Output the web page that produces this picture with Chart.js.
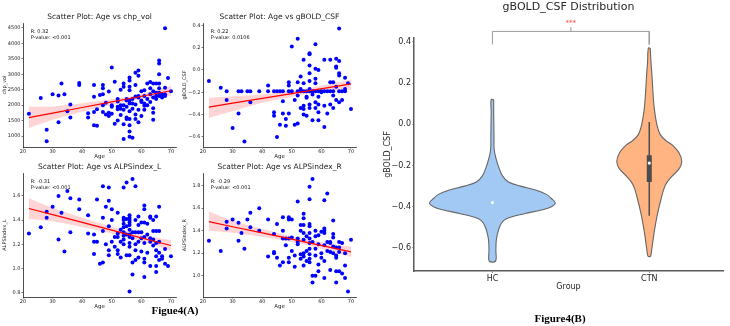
<!DOCTYPE html>
<html><head><meta charset="utf-8">
<script src="https://cdn.jsdelivr.net/npm/chart.js@4/dist/chart.umd.min.js"></script>
<style>
html,body{margin:0;padding:0;width:730px;height:326px;overflow:hidden;background:#fff;}
canvas{position:absolute;}
.cap{position:absolute;font:bold 11px "Liberation Serif","Times New Roman",serif;color:#000;white-space:nowrap;transform:translate(-50%,-50%);}
</style></head><body>
<canvas id="c1" width="199" height="162" style="left:0px;top:0px"></canvas>
<canvas id="c2" width="199" height="162" style="left:180px;top:0px"></canvas>
<canvas id="c3" width="199" height="162" style="left:0px;top:150px"></canvas>
<canvas id="c4" width="199" height="162" style="left:180px;top:150px"></canvas>
<canvas id="c5" width="377" height="296" style="left:380px;top:0px"></canvas>
<div class="cap" style="left:175px;top:310px">Figue4(A)</div>
<div class="cap" style="left:560px;top:318px">Figure4(B)</div>
<script>
// ---------------- data ----------------
const AGE_TICKS = [20, 30, 40, 50, 60, 70];

// Panel 1: Age vs chp_vol
const AGE_CHP = [22,26,28,28,30,32,32,33,34,35,36,36,39,39,42,42,44,44,44,44,45,45,46,47,47,47,47,47,48,48,49,49,49,50,50,50,50,51,51,52,52,52,52,52,53,53,53,53,54,54,54,54,54,54,55,55,55,55,55,56,56,56,56,56,56,56,56,56,56,56,57,57,57,57,58,58,58,58,58,58,59,59,59,59,59,59,60,60,60,60,61,61,61,61,61,62,62,62,63,63,63,63,64,64,64,64,64,64,65,65,65,65,66,66,66,66,66,66,66,67,67,68,68,68,68,69,70];
const CHP_VOL = [1720,2230,1200,830,2350,2310,1450,2700,2350,1800,2020,1600,2720,2650,1740,1600,2650,2270,1350,1780,1330,1870,2330,2650,2550,2350,2000,1780,1700,2080,2440,1650,1750,3220,2000,1950,1720,2760,1400,2200,2120,1950,1870,1500,2000,1880,1680,2500,2700,2600,2000,1850,1380,900,2200,2150,1950,1600,1550,2900,2800,2600,2480,2150,2050,1800,1550,1350,1150,980,2200,2050,1880,940,3050,2650,2280,2020,1700,1550,3120,2950,2300,2250,1850,1450,2450,2150,2100,1650,2480,2300,2050,1980,1850,2700,2200,2000,2750,2550,2350,2100,2700,2450,2250,1900,1750,1530,2700,2400,2300,2200,3450,3350,3000,2700,2550,2400,2300,2250,2350,4490,2560,2350,2300,2880,2450];
const CHP_TICKS = [1000,1500,2000,2500,3000,3500,4000,4500];

// Panel 2: Age vs gBOLD_CSF
const AGE_GB = [22,26,28,28,30,32,32,33,34,35,36,36,39,42,42,44,44,44,45,45,46,46,47,47,47,48,48,49,49,49,49,50,50,51,51,52,52,52,52,52,53,53,53,53,54,54,54,54,54,54,55,55,55,55,56,56,56,56,56,56,56,56,56,57,57,57,58,58,58,58,58,58,58,59,59,59,59,59,59,60,60,61,61,61,61,62,62,63,63,63,63,64,64,64,64,65,65,65,65,65,66,66,66,66,66,66,67,67,68,68,68,69,70];
const GBOLD = [-0.10,-0.16,-0.19,-0.27,-0.52,-0.19,-0.39,-0.19,-0.64,-0.19,-0.19,-0.29,-0.19,-0.14,-0.19,-0.19,-0.38,-0.41,-0.19,-0.60,-0.19,-0.49,-0.28,-0.19,-0.39,-0.44,-0.50,-0.11,-0.14,-0.19,-0.39,0.21,-0.19,-0.49,-0.27,0.28,-0.11,-0.19,-0.23,-0.48,-0.06,-0.17,-0.19,-0.34,0.09,-0.12,-0.19,-0.32,-0.35,-0.40,-0.19,-0.24,-0.25,-0.41,0.15,0.14,0.04,-0.03,-0.10,-0.17,-0.19,-0.31,-0.34,-0.19,-0.22,-0.45,0.23,0.01,-0.08,-0.12,-0.19,-0.29,-0.34,0.00,-0.19,-0.24,-0.31,-0.38,-0.45,-0.19,-0.20,0.09,-0.19,-0.32,-0.51,-0.19,-0.39,0.09,-0.11,-0.19,-0.31,-0.11,-0.19,-0.23,-0.34,0.10,0.03,0.02,-0.15,-0.27,0.37,0.08,-0.03,-0.05,-0.19,-0.29,-0.19,-0.27,-0.07,-0.17,-0.19,-0.12,-0.35];
const GB_TICKS = [-0.6,-0.4,-0.2,0.0,0.2,0.4];

// Panel 3: Age vs ALPSindex_L
const AGE_L = [22,26,28,28,30,32,32,33,34,35,36,36,39,39,42,42,44,44,44,45,45,46,47,47,47,47,48,48,49,49,49,49,49,50,50,50,51,51,52,52,52,52,52,53,53,53,54,54,54,54,54,54,54,54,54,55,55,55,55,55,56,56,56,56,56,56,56,56,56,56,56,56,57,57,57,57,57,58,58,58,58,58,58,59,59,59,59,59,60,60,60,60,61,61,61,61,61,61,61,61,62,62,62,63,63,63,63,63,64,64,64,64,65,65,65,65,65,65,65,66,66,66,66,66,67,67,68,68,69,70];
const ALPS_L = [1.29,1.34,1.47,1.42,1.51,1.60,1.24,1.46,1.14,1.64,1.58,1.30,1.57,1.49,1.44,1.29,1.28,1.22,1.12,1.57,1.22,1.04,1.68,1.42,1.31,1.05,1.51,1.20,1.67,1.56,1.35,1.15,1.11,1.49,1.40,1.22,1.26,1.18,1.46,1.29,1.26,1.15,1.12,1.32,1.22,1.09,1.67,1.42,1.40,1.37,1.34,1.30,1.27,1.24,1.20,1.71,1.41,1.35,1.28,1.11,1.44,1.42,1.40,1.38,1.36,1.32,1.28,1.26,1.21,1.18,1.11,0.81,1.74,1.30,1.25,1.05,0.95,1.68,1.40,1.30,1.20,1.15,1.07,1.43,1.36,1.30,1.22,1.09,1.38,1.30,1.25,1.14,1.52,1.49,1.38,1.26,1.21,1.08,1.05,0.93,1.37,1.28,1.13,1.43,1.42,1.25,1.22,1.02,1.40,1.31,1.24,1.19,1.43,1.31,1.21,1.15,1.10,1.02,0.97,1.51,1.31,1.22,1.13,1.07,1.08,1.10,1.16,1.04,1.02,1.10];
const L_TICKS = [0.8,1.0,1.2,1.4,1.6];

// Panel 4: Age vs ALPSindex_R
const AGE_R = [22,26,28,28,30,32,32,33,34,35,36,36,39,39,42,42,44,44,44,45,45,46,47,47,47,47,48,48,49,49,49,49,49,50,50,50,51,51,52,52,52,52,52,53,53,53,53,54,54,54,54,54,54,54,54,55,55,55,56,56,56,56,56,56,56,56,56,56,56,57,57,57,57,58,58,58,58,58,59,59,59,59,60,60,60,61,61,61,61,61,61,61,62,62,62,63,63,63,63,64,64,64,64,64,65,65,65,65,65,66,66,66,66,67,67,68,68,68,69,70];
const ALPS_R = [1.31,1.22,1.48,1.42,1.50,1.47,1.31,1.38,1.24,1.50,1.56,1.43,1.60,1.40,1.50,1.17,1.37,1.21,1.20,1.46,1.16,1.09,1.52,1.40,1.33,1.12,1.33,1.27,1.52,1.50,1.33,1.16,1.12,1.50,1.34,1.22,1.08,1.18,1.66,1.33,1.31,1.28,1.30,1.45,1.40,1.19,1.15,1.55,1.51,1.45,1.38,1.32,1.20,1.17,1.09,1.35,1.22,1.13,1.79,1.68,1.46,1.44,1.38,1.33,1.29,1.24,1.19,1.15,1.12,1.86,1.30,1.00,0.94,1.40,1.35,1.24,1.18,1.00,1.36,1.28,1.10,1.04,1.39,1.20,1.16,1.67,1.42,1.40,1.38,1.27,1.13,0.98,1.73,1.30,1.22,1.29,1.30,1.21,1.05,1.49,1.37,1.34,1.26,1.20,1.25,1.18,1.16,1.04,0.94,1.30,1.25,1.21,1.04,1.29,1.02,1.20,1.09,0.98,0.86,1.32];
const R_TICKS = [1.0,1.2,1.4,1.6,1.8];

// regression lines and 95% CI bands
const FIT_AGE = [22,30,40,50,57,65,70];
const FIT_CHP = [1598,1743,1924,2105,2232,2377,2467];
const HI_CHP  = [1950,1960,2060,2190,2300,2490,2620];
const LO_CHP  = [1260,1530,1790,2010,2160,2260,2300];
const FIT_GB = [-0.333,-0.298,-0.255,-0.212,-0.181,-0.147,-0.125];
const HI_GB  = [-0.25,-0.235,-0.22,-0.187,-0.157,-0.115,-0.085];
const LO_GB  = [-0.43,-0.37,-0.295,-0.24,-0.207,-0.182,-0.175];
const FIT_L = [1.496,1.445,1.381,1.317,1.272,1.221,1.19];
const HI_L  = [1.58,1.50,1.42,1.345,1.298,1.255,1.235];
const LO_L  = [1.41,1.39,1.342,1.29,1.246,1.188,1.147];
const FIT_R = [1.48,1.435,1.38,1.324,1.285,1.24,1.212];
const HI_R  = [1.57,1.49,1.415,1.35,1.31,1.275,1.26];
const LO_R  = [1.40,1.382,1.345,1.298,1.26,1.205,1.165];

// Violin panel
const GROUPS = ['HC', 'CTN'];
const HC_Y = [0.12,0.06,0.0,-0.06,-0.12,-0.16,-0.21,-0.25,-0.28,-0.30,-0.32,-0.34,-0.36,-0.382,-0.40,-0.415,-0.434,-0.458,-0.48,-0.515,-0.56,-0.61,-0.664];
const HC_W = [0.008,0.008,0.009,0.010,0.011,0.021,0.041,0.064,0.102,0.178,0.280,0.344,0.376,0.401,0.376,0.318,0.204,0.089,0.057,0.038,0.025,0.022,0.020];
const CTN_Y = [0.37,0.30,0.24,0.15,0.076,0.0,-0.05,-0.08,-0.10,-0.14,-0.18,-0.215,-0.256,-0.296,-0.36,-0.44,-0.52,-0.60,-0.64];
const CTN_W = [0.006,0.011,0.017,0.024,0.032,0.048,0.070,0.108,0.146,0.191,0.207,0.191,0.140,0.102,0.076,0.051,0.032,0.017,0.008];
const MEDIANS = [-0.38, -0.188];
const CTN_WHISKER = [0.011, -0.444];
const CTN_BOX = [-0.15, -0.28];
const SIG_TEXT = '***';
const VIOLIN_TICKS = [-0.6,-0.4,-0.2,0.0,0.2,0.4];

// ---------------- helpers ----------------
const FAM = "'DejaVu Sans', 'Liberation Sans', sans-serif";
Chart.defaults.font.family = FAM;
const zip = (xs, ys) => xs.map((x, i) => ({x, y: ys[i]}));
const minus = s => s.replace('-', '\u2212');

const statsText = {
  id: 'statsText',
  afterDraw(chart, args, opts) {
    const {ctx, chartArea: a} = chart;
    ctx.save();
    ctx.font = `5px ${FAM}`;
    ctx.fillStyle = '#111';
    ctx.textBaseline = 'top';
    ctx.textAlign = 'left';
    const x = a.left + 0.05 * (a.right - a.left);
    const y = a.top + 0.05 * (a.bottom - a.top);
    (opts.lines || []).forEach((t, i) => ctx.fillText(t, x, y + i * 5.8));
    ctx.restore();
  }
};

// empty right-hand axis of the same width as the left one, so titles centre over the plot
const spacerAxis = w => ({position: 'right', display: true, afterFit: s => { s.width = w; },
  ticks: {display: false}, grid: {display: false}, border: {display: false}, title: {display: false}});

function makeScatter(id, o) {
  return new Chart(document.getElementById(id), {
    type: 'scatter',
    data: {datasets: [
      {type: 'line', data: zip(FIT_AGE, o.fit), borderColor: '#ff0000', borderWidth: 1.2, pointRadius: 0, fill: false, tension: 0},
      {data: zip(o.age, o.val), backgroundColor: '#0000ff', borderWidth: 0, pointRadius: 2},
      {type: 'line', data: zip(FIT_AGE, o.hi), borderWidth: 0, borderColor: 'rgba(0,0,0,0)', pointRadius: 0, fill: false, cubicInterpolationMode: 'monotone'},
      {type: 'line', data: zip(FIT_AGE, o.lo), borderWidth: 0, borderColor: 'rgba(0,0,0,0)', pointRadius: 0, fill: '-1', backgroundColor: 'rgba(255,0,0,0.17)', cubicInterpolationMode: 'monotone'}
    ]},
    options: {
      responsive: false, animation: false, events: [],
      layout: {padding: 0},
      plugins: {
        legend: {display: false}, tooltip: {enabled: false},
        title: {display: true, text: o.title, color: '#222', font: {size: 7.5, weight: 'normal'}, padding: {top: o.tTop, bottom: 1.5}},
        statsText: {lines: o.stats}
      },
      scales: {
        x: {
          type: 'linear', min: 20, max: 71.7,
          afterFit: s => { s.height = 15; },
          afterBuildTicks: s => { s.ticks = AGE_TICKS.map(v => ({value: v})); },
          ticks: {font: {size: 5}, color: '#222', padding: 0, maxRotation: 0, autoSkip: false, callback: v => String(v)},
          grid: {display: true, drawOnChartArea: false, drawTicks: true, tickLength: 1.5, color: '#222', lineWidth: 0.6},
          border: {display: true, color: '#222', width: 0.8},
          title: {display: true, text: 'Age', font: {size: 5.5}, color: '#222', padding: {top: 0, bottom: 1.7}}
        },
        y: {
          type: 'linear', min: o.ymin, max: o.ymax,
          afterFit: s => { s.width = 23; },
          afterBuildTicks: s => { s.ticks = o.ticks.map(v => ({value: v})); },
          ticks: {font: {size: 5}, color: '#222', padding: 1, autoSkip: false, callback: o.fmt},
          grid: {display: true, drawOnChartArea: false, drawTicks: true, tickLength: 1.5, color: '#222', lineWidth: 0.6},
          border: {display: true, color: '#222', width: 0.8},
          title: {display: true, text: o.ylab, font: {size: 5}, color: '#222', padding: {top: 2, bottom: 0}}
        },
        yR: spacerAxis(23)
      }
    },
    plugins: [statsText]
  });
}

const fmt1 = v => minus(Number(v).toFixed(1));

makeScatter('c1', {title: 'Scatter Plot: Age vs chp_vol', age: AGE_CHP, val: CHP_VOL, fit: FIT_CHP, hi: HI_CHP, lo: LO_CHP,
  ymin: 644, ymax: 4662, ticks: CHP_TICKS, fmt: v => String(v), ylab: 'chp_vol', stats: ['R: 0.32', 'P-value: <0.001'], tTop: 12.5});
makeScatter('c2', {title: 'Scatter Plot: Age vs gBOLD_CSF', age: AGE_GB, val: GBOLD, fit: FIT_GB, hi: HI_GB, lo: LO_GB,
  ymin: -0.69, ymax: 0.42, ticks: GB_TICKS, fmt: fmt1, ylab: 'gBOLD_CSF', stats: ['R: 0.22', 'P-value: 0.0106'], tTop: 12.5});
makeScatter('c3', {title: 'Scatter Plot: Age vs ALPSindex_L', age: AGE_L, val: ALPS_L, fit: FIT_L, hi: HI_L, lo: LO_L,
  ymin: 0.764, ymax: 1.787, ticks: L_TICKS, fmt: fmt1, ylab: 'ALPSindex_L', stats: ['R: -0.31', 'P-value: <0.001'], tTop: 12.8});
makeScatter('c4', {title: 'Scatter Plot: Age vs ALPSindex_R', age: AGE_R, val: ALPS_R, fit: FIT_R, hi: HI_R, lo: LO_R,
  ymin: 0.81, ymax: 1.91, ticks: R_TICKS, fmt: fmt1, ylab: 'ALPSindex_R', stats: ['R: -0.29', 'P-value: <0.001'], tTop: 12.8});

// ---------------- violin ----------------
function violinPoly(c, ys, ws) {
  const right = ys.map((y, i) => ({x: c + ws[i], y}));
  const left = ys.map((y, i) => ({x: c - ws[i], y})).reverse();
  return right.concat(left, [right[0]]);
}

const sigText = {
  id: 'sigText',
  afterDraw(chart) {
    const {ctx, scales: {x, y}} = chart;
    ctx.save();
    ctx.font = `7px ${FAM}`;
    ctx.fillStyle = '#ff3b3b';
    ctx.textAlign = 'center';
    ctx.textBaseline = 'middle';
    ctx.fillText(SIG_TEXT, x.getPixelForValue(0.5), y.getPixelForValue(0.493));
    ctx.restore();
  }
};

new Chart(document.getElementById('c5'), {
  type: 'scatter',
  data: {datasets: [
    {data: [{x: 0, y: MEDIANS[0]}, {x: 1, y: MEDIANS[1]}], backgroundColor: '#ffffff', borderWidth: 0, pointRadius: 1.6},
    {type: 'line', data: [{x: 1, y: CTN_BOX[0]}, {x: 1, y: CTN_BOX[1]}], borderColor: '#4c4c4c', borderWidth: 5, borderCapStyle: 'butt', pointRadius: 0, fill: false},
    {type: 'line', data: [{x: 1, y: CTN_WHISKER[0]}, {x: 1, y: CTN_WHISKER[1]}], borderColor: '#4c4c4c', borderWidth: 1.5, pointRadius: 0, fill: false},
    {type: 'line', data: violinPoly(0, HC_Y, HC_W), borderColor: '#666666', borderWidth: 1.1, backgroundColor: '#a1c9f4', fill: 'shape', pointRadius: 0, tension: 0.35},
    {type: 'line', data: violinPoly(1, CTN_Y, CTN_W), borderColor: '#666666', borderWidth: 1.1, backgroundColor: '#ffb482', fill: 'shape', pointRadius: 0, tension: 0.35},
    {type: 'line', data: [{x: 0, y: 0.388}, {x: 0, y: 0.451}, {x: 1, y: 0.451}, {x: 1, y: 0.388}], borderColor: '#9a9a9a', borderWidth: 1, pointRadius: 0, fill: false, tension: 0, clip: false},
    {type: 'line', data: [{x: 0.5, y: 0.451}, {x: 0.5, y: 0.472}], borderColor: '#9a9a9a', borderWidth: 1, pointRadius: 0, fill: false, tension: 0, clip: false}
  ]},
  options: {
    responsive: false, animation: false, events: [],
    layout: {padding: 0},
    plugins: {
      legend: {display: false}, tooltip: {enabled: false},
      title: {display: true, text: 'gBOLD_CSF Distribution', color: '#262626', font: {size: 11, weight: 'normal'}, padding: {top: 0.5, bottom: 24.3}}
    },
    scales: {
      x: {
        type: 'linear', min: -0.5, max: 1.47,
        afterFit: s => { s.height = 25; },
        afterBuildTicks: s => { s.ticks = GROUPS.map((g, i) => ({value: i})); },
        ticks: {font: {size: 8}, color: '#262626', padding: 1, maxRotation: 0, autoSkip: false, callback: v => GROUPS[v]},
        grid: {display: true, drawOnChartArea: false, drawTicks: true, tickLength: 2, color: '#888', lineWidth: 1},
        border: {display: true, color: '#5a5a5a', width: 1.5},
        title: {display: true, text: 'Group', font: {size: 8}, color: '#262626', padding: {top: 0, bottom: 4.2}}
      },
      y: {
        type: 'linear', min: -0.712, max: 0.419,
        afterFit: s => { s.width = 34; },
        afterBuildTicks: s => { s.ticks = VIOLIN_TICKS.map(v => ({value: v})); },
        ticks: {font: {size: 8}, color: '#262626', padding: 1, autoSkip: false, callback: fmt1},
        grid: {display: true, drawOnChartArea: false, drawTicks: true, tickLength: 2, color: '#aaa', lineWidth: 1},
        border: {display: true, color: '#5a5a5a', width: 1.5},
        title: {display: true, text: 'gBOLD_CSF', font: {size: 8}, color: '#262626', padding: {top: 3.2, bottom: 0}}
      },
      yR: spacerAxis(34)
    }
  },
  plugins: [sigText]
});
</script>
</body></html>
